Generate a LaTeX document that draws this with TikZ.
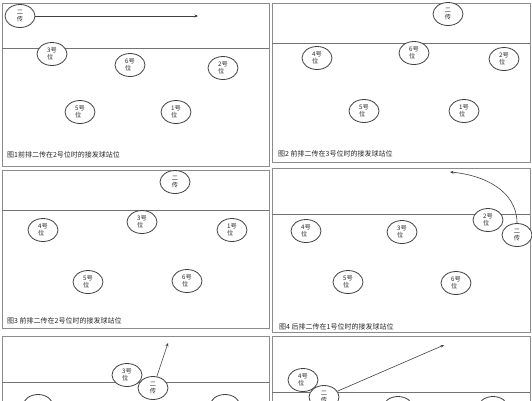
\documentclass[tikz,border=0pt]{standalone}
\usepackage{fontspec}
\newfontfamily\cjk{Noto Sans CJK SC}
\usetikzlibrary{shapes.geometric,arrows.meta}
\tikzset{
  court/.style={draw=black!45, line width=0.9pt},
  netline/.style={draw=black!55, line width=0.8pt},
  player/.style={ellipse, draw=black!75, line width=0.8pt, minimum width=30pt, minimum height=23pt, inner sep=0pt, align=left, font=\cjk\fontsize{6.2}{7}\selectfont, text=black!85, fill=white},
  move/.style={draw=black!75, line width=0.6pt, -{Stealth[length=3.5pt,width=3pt]}},
  caption/.style={anchor=west, inner sep=0pt, font=\cjk\fontsize{7}{8}\selectfont, text=black!85}
}
\begin{document}
\begin{tikzpicture}[x=1pt,y=-1pt]
\useasboundingbox (0,0) rectangle (532,400);
\clip (0,0) rectangle (532,400);
\fill[white] (0,0) rectangle (532,400);
% panel 1
\draw[court] (2,3) rectangle (269,166);
\draw[netline] (2,48) -- (269,48);
\node[player] (p1s) at (20,16) {二\\传};
\coordinate (p1e) at (198,16);
\draw[move] (p1s) -- (p1e);
\node[player] (p1a) at (52,54) {3号\\位};
\node[player] (p1b) at (130,65) {6号\\位};
\node[player] (p1c) at (223,68) {2号\\位};
\node[player] (p1d) at (80,112) {5号\\位};
\node[player] (p1f) at (176,112) {1号\\位};
\node[caption] (c1) at (7,155) {图1前排二传在2号位时的接发球站位};
% panel 2
\draw[court] (272,3) rectangle (530,162);
\draw[netline] (272,43) -- (530,43);
\node[player] (p2s) at (448,14) {二\\传};
\node[player] (p2a) at (317,58) {4号\\位};
\node[player] (p2b) at (414,53) {6号\\位};
\node[player] (p2c) at (504,59) {2号\\位};
\node[player] (p2d) at (364,111) {5号\\位};
\node[player] (p2f) at (464,111) {1号\\位};
\node[caption] (c2) at (278,154) {图2 前排二传在3号位时的接发球站位};
% panel 3
\draw[court] (2,170) rectangle (269,328);
\draw[netline] (2,210) -- (269,210);
\node[player] (p3s) at (175,182) {二\\传};
\node[player] (p3a) at (43,230) {4号\\位};
\node[player] (p3b) at (142,222) {3号\\位};
\node[player] (p3c) at (232,230) {1号\\位};
\node[player] (p3d) at (88,282) {5号\\位};
\node[player] (p3f) at (187,281) {6号\\位};
\node[caption] (c3) at (7,321) {图3 前排二传在2号位时的接发球站位};
% panel 4
\draw[court] (272,168) rectangle (530,332);
\draw[netline] (272,214) -- (530,214);
\node[player] (p4a) at (306,231) {4号\\位};
\node[player] (p4b) at (402,232) {3号\\位};
\node[player] (p4c) at (488,220) {2号\\位};
\node[player] (p4s) at (517,235) {二\\传};
\node[player] (p4d) at (348,282) {5号\\位};
\node[player] (p4f) at (456,283) {6号\\位};
\coordinate (p4e) at (450,172);
\draw[move] (p4s.north) to[out=90,in=-5] (p4e);
\node[caption] (c4) at (279,327) {图4 后排二传在1号位时的接发球站位};
% panel 5
\draw[court] (2,336) rectangle (269,420);
\draw[netline] (2,382) -- (269,382);
\node[player] (p5g) at (38,406) {};
\node[player] (p5h) at (225,406) {};
\node[player] (p5a) at (127,375) {3号\\位};
\node[player] (p5s) at (153,388) {二\\传};
\coordinate (p5e) at (168,343);
\draw[move] (p5s) -- (p5e);
% panel 6
\draw[court] (272,336) rectangle (530,420);
\draw[netline] (272,392) -- (530,392);
\node[player] (p6g) at (398,408) {};
\node[player] (p6h) at (493,408) {};
\node[player] (p6a) at (303,380) {4号\\位};
\node[player] (p6s) at (324,397) {二\\传};
\coordinate (p6e) at (444,345);
\draw[move] (p6s) -- (p6e);
\end{tikzpicture}
\end{document}
